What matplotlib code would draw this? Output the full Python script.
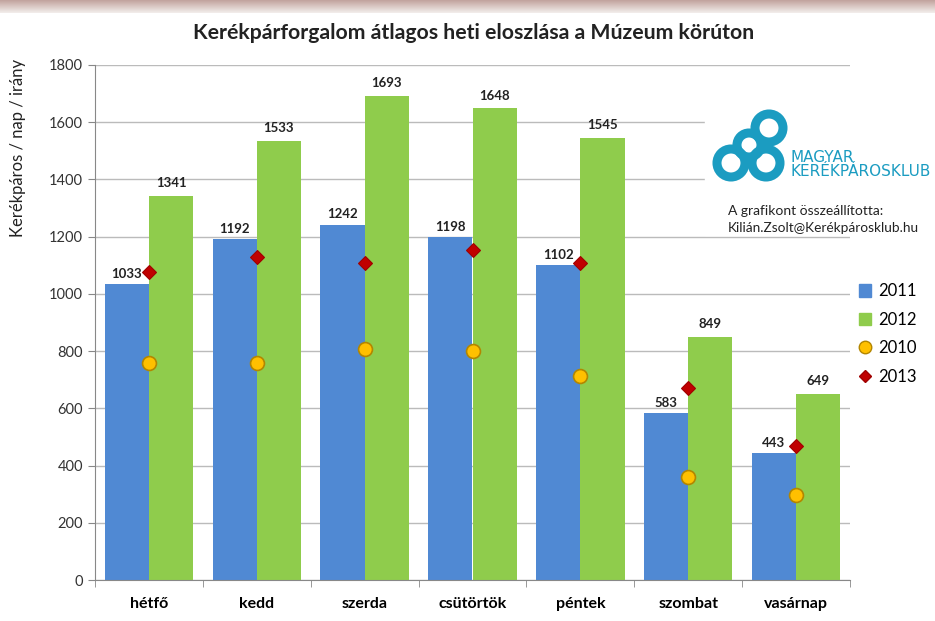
import numpy as np
import matplotlib
matplotlib.use("Agg")
import matplotlib.pyplot as plt
from matplotlib.patches import Circle, Patch
from matplotlib.lines import Line2D

# --- data -------------------------------------------------------------
days = ["hétfő", "kedd", "szerda", "csütörtök", "péntek", "szombat", "vasárnap"]
y2011 = [1033, 1192, 1242, 1198, 1102, 583, 443]
y2012 = [1341, 1533, 1693, 1648, 1545, 849, 649]
y2010 = [757, 760, 806, 802, 713, 360, 297]
y2013 = [1077, 1129, 1108, 1154, 1108, 671, 468]

BLUE = "#5089d3"
GREEN = "#8fcc4c"
GOLD = "#ffc000"
RED = "#c00000"
TEAL = "#1b9cc1"

plt.rcParams["font.family"] = ["Lato", "DejaVu Sans"]

W, H = 935, 621
fig = plt.figure(figsize=(W / 100, H / 100), dpi=100)

# blurry strip at the very top (remains of a photo banner)
band = fig.add_axes([0, 1 - 13 / H, 1, 13 / H])
grad = np.linspace(0, 1, 20)[:, None, None]
top = np.array([0.76, 0.64, 0.62])
img = top * (1 - grad) + np.array([0.95, 0.93, 0.92]) * grad
band.imshow(np.repeat(img, 10, axis=1), aspect="auto", extent=[0, 1, 0, 1])
band.set_axis_off()

ax = fig.add_axes([95 / W, 1 - 580 / H, 755 / W, 515 / H])
x = np.arange(len(days))
w = 0.41
b11 = ax.bar(x - w / 2, y2011, w, color=BLUE, zorder=2)
b12 = ax.bar(x + w / 2, y2012, w, color=GREEN, zorder=2)
ax.bar_label(b11, padding=3, fontsize=9.5, fontweight="bold", color="#222222")
ax.bar_label(b12, padding=5, fontsize=9.5, fontweight="bold", color="#222222")
ax.plot(x, y2010, "o", ms=10, mfc=GOLD, mec="#b38600", mew=1.2, ls="none", zorder=4)
ax.plot(x, y2013, "D", ms=7.5, mfc=RED, mec="#a00000", mew=0.8, ls="none", zorder=4)

ax.set_xlim(-0.5, len(days) - 0.5)
ax.set_ylim(0, 1800)
ax.set_yticks(range(0, 1801, 200))
ax.set_xticks(x)
ax.set_xticklabels(days, fontsize=11.5, fontweight="bold")
ax.tick_params(axis="x", length=0, pad=12)
ax.set_xticks(np.arange(-0.5, len(days), 1), minor=True)
ax.tick_params(axis="x", which="minor", length=5, color="#888888")
ax.tick_params(axis="y", labelsize=10.5, length=5, color="#888888", colors="#333333")
ax.grid(axis="y", color="#bbbbbb", lw=1, zorder=0)
for s in ("top", "right"):
    ax.spines[s].set_visible(False)
for s in ("left", "bottom"):
    ax.spines[s].set_color("#888888")
ax.set_ylabel("Kerékpáros / nap / irány", fontsize=12, color="#222222")
ax.yaxis.set_label_coords(-77 / 755, 1 - 83 / 515)
ax.yaxis.label.set_va("center")

fig.text(474 / W, 1 - 33 / H, "Kerékpárforgalom átlagos heti eloszlása a Múzeum körúton",
         ha="center", va="center", fontsize=15.3, fontweight="bold", color="#222222")

# logo: four linked rings
lax = fig.add_axes([0, 0, 1, 1], facecolor="none")
lax.set_xlim(0, W)
lax.set_ylim(H, 0)
lax.set_axis_off()
lax.add_patch(plt.Rectangle((705, 105), 229, 130, color="white", zorder=1))
for cx, cy, r in [(769, 128, 14), (749, 145, 12), (731, 163, 14), (766, 163, 14)]:
    lax.add_patch(Circle((cx, cy), r, fc="none", ec=TEAL, lw=6.5, zorder=2))
lax.text(790, 157, "MAGYAR", color=TEAL, fontsize=11, family="DejaVu Sans", va="center")
lax.text(790, 172, "KERÉKPÁROSKLUB", color=TEAL, fontsize=11, family="DejaVu Sans", va="center")
lax.text(728, 211, "A grafikont összeállította:", fontsize=10, color="#222222", va="center")
lax.text(728, 228, "Kilián.Zsolt@Kerékpárosklub.hu", fontsize=9.8, color="#222222", va="center")

handles = [
    Patch(color=BLUE, label="2011"),
    Patch(color=GREEN, label="2012"),
    Line2D([], [], marker="o", ls="none", ms=9, mfc=GOLD, mec="#b38600", label="2010"),
    Line2D([], [], marker="D", ls="none", ms=6.5, mfc=RED, mec="#a00000", label="2013"),
]
fig.legend(handles=handles, loc="center left", bbox_to_anchor=(852 / W, 1 - 334 / H),
           frameon=False, fontsize=12, labelspacing=0.75, handlelength=0.75,
           handletextpad=0.45, handleheight=0.75, borderaxespad=0)

fig.savefig("out.png", dpi=100)
